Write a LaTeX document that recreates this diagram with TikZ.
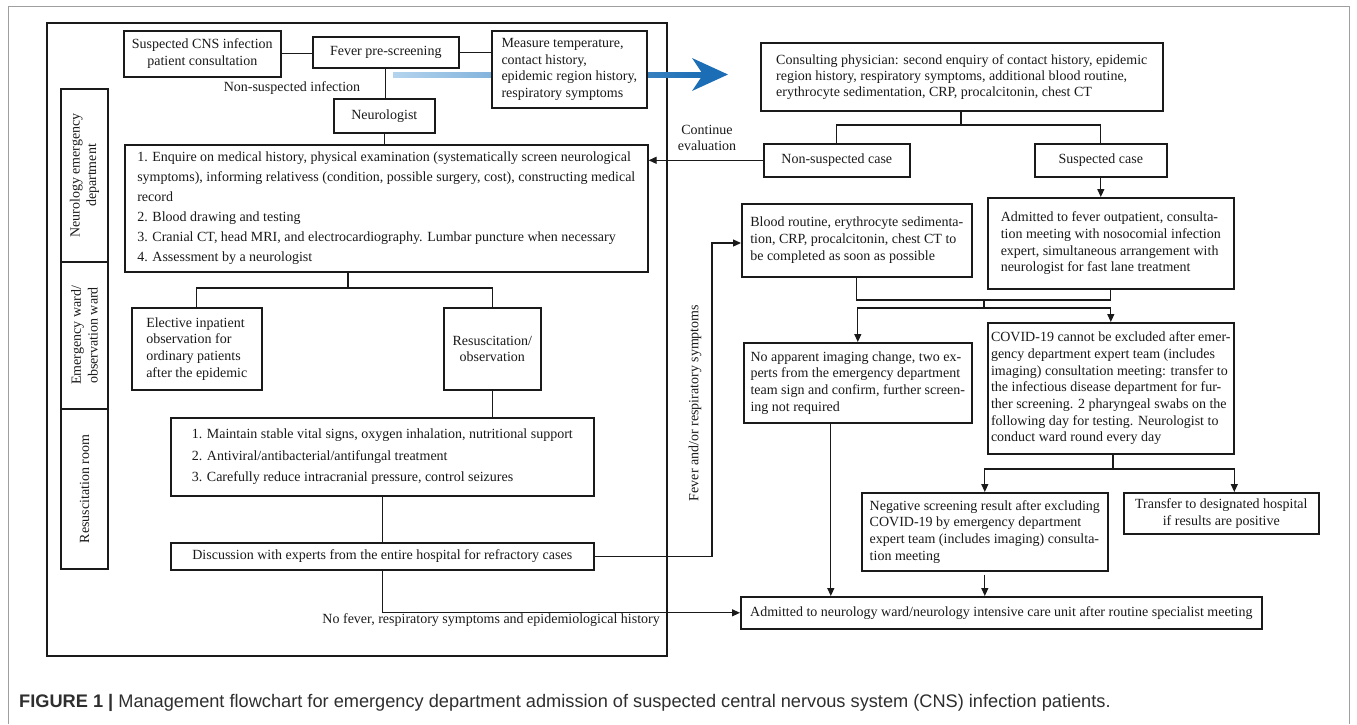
\documentclass[tikz,border=0pt]{standalone}
\usepackage{fontspec}
\setmainfont{Liberation Serif}
\newfontfamily\capfamily{Liberation Sans}
\usetikzlibrary{arrows.meta,calc}
\definecolor{bluedark}{HTML}{1B6DB5}
\definecolor{bluelight}{HTML}{B4D4EE}
\definecolor{ink}{HTML}{1A1A1A}
\newcommand\dgfont{\fontsize{14}{16.7}\selectfont}
\begin{document}
\begin{tikzpicture}[x=1pt,y=-1pt,
  bx/.style={draw=ink, line width=1.6pt, fill=white, inner xsep=4pt, inner ysep=2pt, align=left, font=\dgfont, text=ink, anchor=north west},
  bxc/.style={bx, align=center},
  lbl/.style={font=\dgfont, text=ink, inner sep=0pt, align=center},
  cn/.style={draw=ink, line width=1.2pt},
  arr/.style={cn, -{Triangle[length=8pt,width=7pt]}},
  side/.style={draw=ink, line width=1.6pt}]
\useasboundingbox (0,0) rectangle (1357,724);
% outer frame
\draw[gray!75, line width=1pt] (8,724) -- (8,6) -- (1349,6) -- (1349,724);
% left department frame
\draw[side] (47,23) rectangle (667,656);
% side labels
\draw[side] (61,89) rectangle (108,262);
\draw[side] (61,262) rectangle (108,409);
\draw[side] (61,409) rectangle (108,569);
\node[lbl, rotate=90] (labA) at (84.5,175.5) {Neurology emergency\\department};
\node[lbl, rotate=90] (labB) at (84.5,335.5) {Emergency ward/\\observation ward};
\node[lbl, rotate=90] (labC) at (84.5,489) {Resuscitation room};
% blue arrow (behind measure box)
\shade[left color=bluelight, right color=bluedark] (393,72.5) rectangle (704,77);
\fill[bluedark] (728,74.5) -- (692,58) -- (703,74.5) -- (692,91) -- cycle;
% left nodes
\node[bxc, minimum width=157pt, minimum height=46pt] (susp) at (123,30) {Suspected CNS infection\\patient consultation};
\node[bxc, minimum width=146pt, minimum height=31pt] (fever) at (312,36) {Fever pre-screening};
\node[bx, minimum width=155pt, minimum height=77pt, inner xsep=9pt] (measure) at (491,30) {Measure temperature,\\contact history,\\epidemic region history,\\respiratory symptoms};
\node[bxc, minimum width=101pt, minimum height=34pt] (neuro) at (333,98) {Neurologist};
\node[bx, minimum width=523pt, minimum height=127pt, font=\fontsize{14}{20}\selectfont] (box1) at (124,144) {1. Enquire on medical history, physical examination (systematically screen neurological\\symptoms), informing relativess (condition, possible surgery, cost), constructing medical\\record\\2. Blood drawing and testing\\3. Cranial CT, head MRI, and electrocardiography. Lumbar puncture when necessary\\4. Assessment by a neurologist};
\node[bx, minimum width=130pt, minimum height=82pt] (elective) at (131,307) {Elective inpatient\\observation for\\ordinary patients\\after the epidemic};
\node[bxc, minimum width=97pt, minimum height=82pt] (resus) at (443,307) {Resuscitation/\\observation};
\node[bx, minimum width=423pt, minimum height=78pt, font=\fontsize{14}{21.5}\selectfont] (box3) at (170,417) {1. Maintain stable vital signs, oxygen inhalation, nutritional support\\2. Antiviral/antibacterial/antifungal treatment\\3. Carefully reduce intracranial pressure, control seizures};
\node[bxc, minimum width=423pt, minimum height=27pt] (discuss) at (170,542) {Discussion with experts from the entire hospital for refractory cases};
% right nodes
\node[bx, minimum width=402pt, minimum height=68pt, font=\fontsize{14}{16}\selectfont] (consult) at (760,42) {Consulting physician: second enquiry of contact history, epidemic\\region history, respiratory symptoms, additional blood routine,\\erythrocyte sedimentation, CRP, procalcitonin, chest CT};
\node[bxc, minimum width=146pt, minimum height=33pt] (nonsusp) at (763,143) {Non-suspected case};
\node[bxc, minimum width=132pt, minimum height=33pt] (suspcase) at (1034,143) {Suspected case};
\node[bx, minimum width=230pt, minimum height=73pt] (blood) at (741,203) {Blood routine, erythrocyte sedimenta-\\tion, CRP, procalcitonin, chest CT to\\be completed as soon as possible};
\node[bx, minimum width=246pt, minimum height=91pt] (admfever) at (987,197) {Admitted to fever outpatient, consulta-\\tion meeting with nosocomial infection\\expert, simultaneous arrangement with\\neurologist for fast lane treatment};
\node[bx, minimum width=228pt, minimum height=80pt] (noapp) at (743,342) {No apparent imaging change, two ex-\\perts from the emergency department\\team sign and confirm, further screen-\\ing not required};
\node[bx, minimum width=246pt, minimum height=131pt, inner xsep=3pt] (covid) at (987,322) {COVID-19 cannot be excluded after emer-\\gency department expert team (includes\\imaging) consultation meeting: transfer to\\the infectious disease department for fur-\\ther screening. 2 pharyngeal swabs on the\\following day for testing. Neurologist to\\conduct ward round every day};
\node[bx, minimum width=246pt, minimum height=78pt] (neg) at (861,492) {Negative screening result after excluding\\COVID-19 by emergency department\\expert team (includes imaging) consulta-\\tion meeting};
\node[bxc, minimum width=195pt, minimum height=41pt] (transfer) at (1123,492) {Transfer to designated hospital\\if results are positive};
\node[bxc, minimum width=521pt, minimum height=32pt] (admitted) at (740,596) {Admitted to neurology ward/neurology intensive care unit after routine specialist meeting};
% labels
\node[lbl] (lnonsusp) at (292,88) {Non-suspected infection};
\node[lbl] (lcont) at (707,138) {Continue\\evaluation};
\node[lbl, anchor=north east] (lnofever) at (660,613) {No fever, respiratory symptoms and epidemiological history};
\node[lbl, rotate=90] (lfever) at (695,403) {Fever and/or respiratory symptoms};
% coordinates
\coordinate (b1) at (348,288);
\coordinate (c1) at (961,125);
\coordinate (fv) at (712,243);
\coordinate (j1) at (984,300);
\coordinate (j2) at (984,308);
\coordinate (k1) at (1113,469);
% left connectors
\draw[cn] (susp.east) -- (susp.east -| fever.west);
\draw[cn] (fever.east) -- (fever.east -| measure.west);
\draw[cn] (fever.south) -- (fever.south |- neuro.north);
\draw[cn] (neuro.south) -- (neuro.south |- box1.north);
\draw[cn] (box1.south -| b1) -- (b1) -| (elective.north);
\draw[cn] (b1) -| (resus.north);
\draw[cn] (resus.south) -- (resus.south |- box3.north);
\draw[cn] (box3.south) -- (discuss.north);
\draw[arr] (discuss.south) |- (admitted.west);
\draw[arr] (discuss.east) -| (fv) -- (fv -| blood.west);
% right connectors
\draw[arr] (nonsusp.west) -- (nonsusp.west -| box1.east);
\draw[cn] (consult.south -| c1) -- (c1);
\draw[cn] (nonsusp.north) |- (c1) -| (suspcase.north);
\draw[arr] (suspcase.south) -- (suspcase.south |- admfever.north);
\draw[cn] (blood.south) |- (j1);
\draw[cn] (admfever.south) |- (j1);
\draw[cn] (j1) -- (j2);
\draw[arr] (j2) -| (noapp.north);
\draw[arr] (j2) -| (covid.north);
\draw[cn] (covid.south -| k1) -- (k1);
\draw[arr] (k1) -| (neg.north);
\draw[arr] (k1) -| ([xshift=13pt]transfer.north);
\draw[arr] ([yshift=-3pt]neg.south) -- (neg.south |- admitted.north);
\draw[arr] ([xshift=-27pt]noapp.south) -- ([xshift=-27pt]noapp.south |- admitted.north);
% caption
\node[anchor=west, inner sep=0pt, font=\capfamily\fontsize{18.2}{21}\selectfont, text=black!82] (cap) at (19,703) {\textbf{FIGURE 1 |} Management flowchart for emergency department admission of suspected central nervous system (CNS) infection patients.};
\end{tikzpicture}
\end{document}
